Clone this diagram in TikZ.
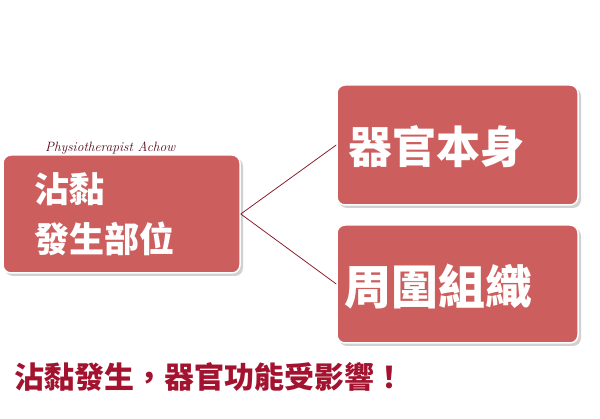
\documentclass[tikz,border=0pt]{standalone}
\usepackage{fontspec}
\newfontfamily\cjk{Noto Sans CJK TC}[BoldFont={Noto Sans CJK TC Black}]
\definecolor{boxfill}{HTML}{CD5E5E}
\definecolor{linkcol}{HTML}{8B2030}
\definecolor{captcol}{HTML}{A3122E}
\definecolor{signcol}{HTML}{5A0A18}
\tikzset{
  redbox/.style={draw=white, line width=1.5pt, fill=boxfill, rounded corners=8pt, inner sep=0pt},
  shadowbox/.style={fill=black!18, rounded corners=8pt},
  boxtext/.style={text=white, font=\cjk\bfseries, inner sep=0pt},
  link/.style={draw=linkcol, line width=0.8pt}
}
\begin{document}
\begin{tikzpicture}[x=1pt,y=-1pt]
\useasboundingbox (0,0) rectangle (600,419);
% shadows
\fill[shadowbox] (5,158) rectangle (243,276);
\fill[shadowbox] (339,88) rectangle (581,208);
\fill[shadowbox] (339,228) rectangle (581,346);
% boxes
\node[redbox, minimum width=237pt, minimum height=118pt] (left) at (121.5,214) {};
\node[redbox, minimum width=241pt, minimum height=120pt] (top) at (457.5,145) {};
\node[redbox, minimum width=241pt, minimum height=118pt] (bot) at (457.5,284) {};
% connectors
\draw[link] (left.east) -- (top.west);
\draw[link] (left.east) -- (bot.west);
% texts
\node[boxtext, anchor=west, font=\cjk\bfseries\fontsize{35}{50}\selectfont, align=left] (lt) at (34,214) {沾黏\\發生部位};
\node[boxtext, anchor=west, font=\cjk\bfseries\fontsize{44}{44}\selectfont] (tt) at (348,147) {器官本身};
\node[boxtext, anchor=west, font=\cjk\bfseries\fontsize{47}{47}\selectfont] (bt) at (344,287) {周圍組織};
\node[anchor=west, inner sep=0pt, text=signcol, font=\itshape\fontsize{13.5}{13.5}\selectfont] (sign) at (45,148) {Physiotherapist Achow};
\node[anchor=west, inner sep=0pt, text=captcol, font=\cjk\bfseries\fontsize{30}{30}\selectfont] (cap) at (14,377) {沾黏發生，器官功能受影響！};
\end{tikzpicture}
\end{document}
